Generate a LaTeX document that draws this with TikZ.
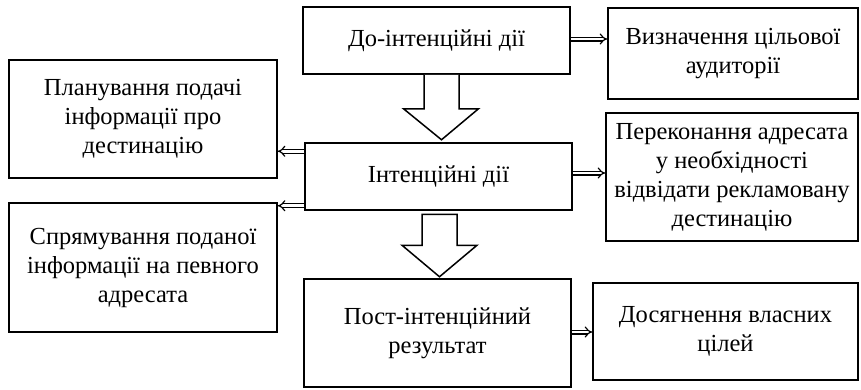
\documentclass[tikz,border=0pt]{standalone}
\usepackage{fontspec}
\setmainfont{Liberation Serif}
\usetikzlibrary{arrows.meta,calc}
\begin{document}
\begin{tikzpicture}[x=1pt,y=-1pt,
  boxst/.style={draw, line width=1.5pt, align=center, inner sep=0pt,
    font=\fontsize{24.5}{29}\selectfont},
  dbl/.style={double, double distance=2.6pt, line width=1.2pt, -{Implies[length=4pt,width=12pt]}},
  bigarr/.style={draw, line width=1.5pt, fill=white, line join=miter}]
\useasboundingbox (0,0) rectangle (861,389);
\node[boxst, minimum width=267pt, minimum height=67pt] (A) at (436.5,40.5) {До-інтенційні дії};
\node[boxst, minimum width=267pt, minimum height=67pt] (B) at (438.5,176.5) {Інтенційні дії};
\node[boxst, minimum width=267pt, minimum height=108pt] (C) at (437.5,333) {Пост-інтенційний\\результат};
\node[boxst, minimum width=268pt, minimum height=118pt] (L1) at (143,119) {Планування подачі\\інформації про\\дестинацію};
\node[boxst, minimum width=268pt, minimum height=129pt] (L2) at (143,267.5) {Спрямування поданої\\інформації на певного\\адресата};
\node[boxst, minimum width=250pt, minimum height=91pt] (R1) at (733,53.5) {Визначення цільової\\аудиторії};
\node[boxst, minimum width=252pt, minimum height=128pt] (R2) at (732,177) {Переконання адресата\\у необхідності\\відвідати рекламовану\\дестинацію};
\node[boxst, minimum width=265pt, minimum height=97pt] (R3) at (725.5,331.5) {Досягнення власних\\цілей};
% big hollow arrows
\draw[bigarr] ($(A.south)+(-12.5,0)$) -- ($(A.south)+(-12.5,34)$) -- ($(A.south)+(-33,34)$)
  -- ($(A.south)+(5,65)$) -- ($(A.south)+(42,34)$) -- ($(A.south)+(22.5,34)$) -- ($(A.south)+(22.5,0)$);
\draw[bigarr] ($(B.south)+(-16.5,3.5)$) -- ($(B.south)+(-16.5,34.5)$) -- ($(B.south)+(-36.5,34.5)$)
  -- ($(B.south)+(1,66)$) -- ($(B.south)+(38.5,34.5)$) -- ($(B.south)+(18.5,34.5)$)
  -- ($(B.south)+(18.5,3.5)$) -- cycle;
% connector start points
\coordinate (ae) at ($(A.east)+(0,-1.5)$);
\coordinate (be) at ($(B.east)+(0,-3.5)$);
\coordinate (ce) at ($(C.east)+(0,-1)$);
\coordinate (bw1) at ($(B.north west)+(0,9)$);
\coordinate (bw2) at ($(B.south west)+(0,-5)$);
% small double arrows
\draw[dbl] (ae) -- (ae -| R1.west);
\draw[dbl] (be) -- (be -| R2.west);
\draw[dbl] (ce) -- (ce -| R3.west);
\draw[dbl] (bw1) -- (bw1 -| L1.east);
\draw[dbl] (bw2) -- (bw2 -| L2.east);
\end{tikzpicture}
\end{document}
